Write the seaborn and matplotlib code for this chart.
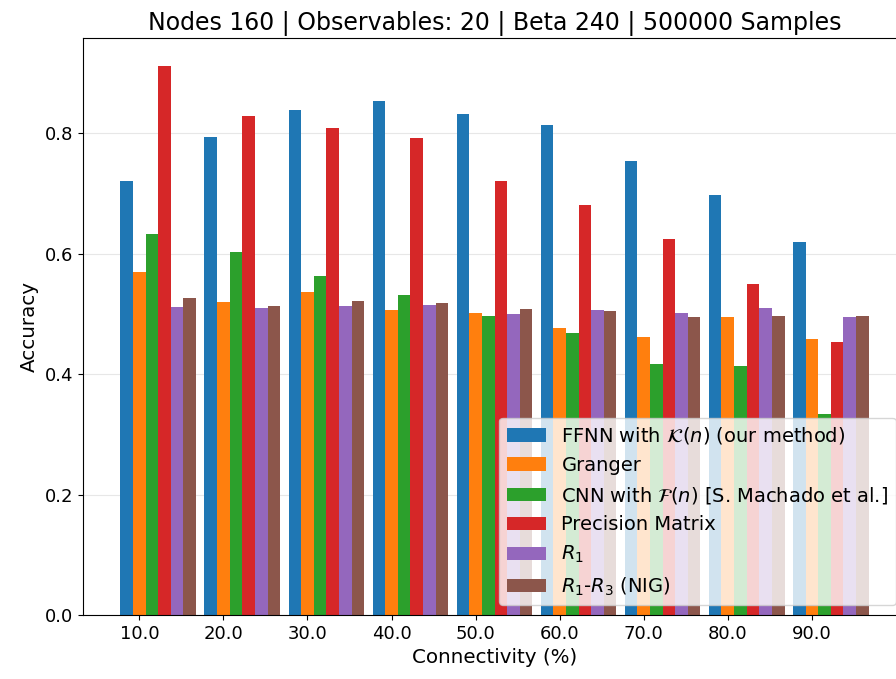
import numpy as np
import pandas as pd
import matplotlib
matplotlib.use("Agg")
import matplotlib.pyplot as plt
import seaborn as sns

connectivity = ["10.0", "20.0", "30.0", "40.0", "50.0", "60.0", "70.0", "80.0", "90.0"]
methods = [
    r"FFNN with $\mathcal{K}(n)$ (our method)",
    "Granger",
    r"CNN with $\mathcal{F}(n)$ [S. Machado et al.]",
    "Precision Matrix",
    r"$R_1$",
    r"$R_1$-$R_3$ (NIG)",
]
ffnn = [0.720, 0.793, 0.838, 0.853, 0.832, 0.814, 0.753, 0.697, 0.619]
granger = [0.569, 0.520, 0.536, 0.506, 0.502, 0.476, 0.462, 0.494, 0.458]
cnn = [0.632, 0.602, 0.563, 0.531, 0.497, 0.469, 0.417, 0.413, 0.334]
precision = [0.911, 0.828, 0.808, 0.792, 0.720, 0.680, 0.625, 0.549, 0.453]
r1 = [0.511, 0.510, 0.513, 0.515, 0.500, 0.506, 0.501, 0.509, 0.494]
r1r3 = [0.526, 0.513, 0.521, 0.518, 0.508, 0.505, 0.494, 0.496, 0.496]

series = [ffnn, granger, cnn, precision, r1, r1r3]
rows = []
for m, vals in zip(methods, series):
    for c, v in zip(connectivity, vals):
        rows.append({"Connectivity": c, "Accuracy": v, "Method": m})
df = pd.DataFrame(rows)

plt.rcParams["font.size"] = 13
fig = plt.figure(figsize=(8.96, 6.79), dpi=100)
ax = fig.add_axes([83 / 896, 64 / 679, 823 / 896, 577 / 679])

palette = sns.color_palette("tab10", 6)
sns.barplot(data=df, x="Connectivity", y="Accuracy", hue="Method",
            order=connectivity, hue_order=methods, palette=palette,
            width=0.9, gap=0, saturation=1, linewidth=0, errorbar=None, ax=ax)

n = len(connectivity)
ax.set_xticks(np.arange(n) - 0.225)
ax.set_xticklabels(connectivity)
ax.set_xlim(-0.895, n - 1 + 0.895)
ax.set_ylim(0, 0.958)
ax.set_yticks([0.0, 0.2, 0.4, 0.6, 0.8])
ax.set_yticklabels(["0.0", "0.2", "0.4", "0.6", "0.8"])
ax.tick_params(labelsize=13)
ax.set_axisbelow(True)
ax.yaxis.grid(True, color="#b0b0b0", alpha=0.3)
ax.set_xlabel("Connectivity (%)", fontsize=14.3)
ax.set_ylabel("Accuracy", fontsize=14.3)
ax.set_title("Nodes 160 | Observables: 20 | Beta 240 | 500000 Samples", fontsize=17)

handles, labels = ax.get_legend_handles_labels()
ax.legend(handles, labels, loc="lower right", fontsize=14)

fig.savefig("out.png", dpi=100)
